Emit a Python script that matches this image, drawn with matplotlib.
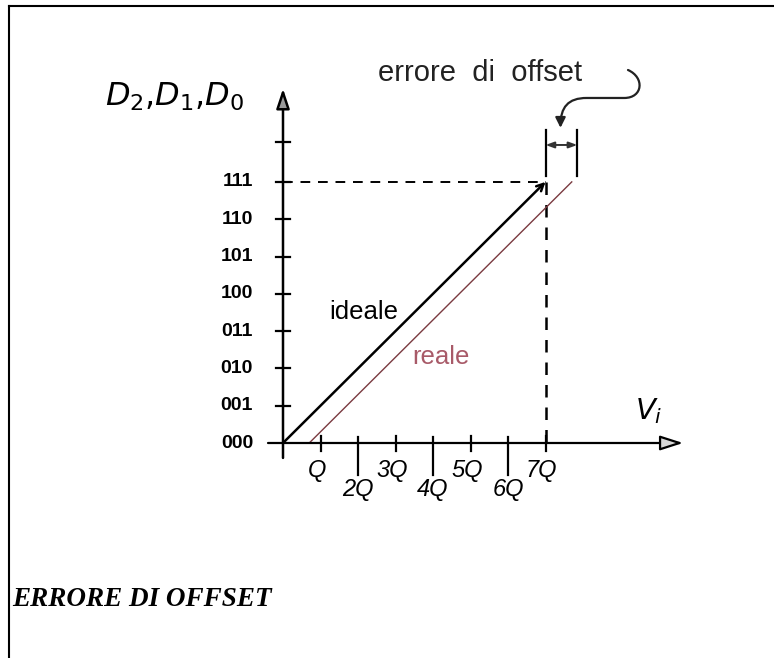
import matplotlib
matplotlib.use("Agg")
import matplotlib.pyplot as plt
from matplotlib.lines import Line2D
from matplotlib.patches import FancyArrowPatch
from matplotlib.path import Path

# output codes on the vertical axis and input steps on the horizontal axis
codes = ["000", "001", "010", "011", "100", "101", "110", "111"]
q_labels = ["Q", "2Q", "3Q", "4Q", "5Q", "6Q", "7Q"]
q_steps = [1, 2, 3, 4, 5, 6, 7]

# ideal and real transfer lines (x in Q units, y in code units)
ideal_x = [0, 7]
ideal_y = [0, 7]
offset = 0.7
real_x = [0 + offset, 7 + offset]
real_y = [0, 7]

fig = plt.figure(figsize=(7.74, 6.58), dpi=100)
ax = fig.add_axes([0, 0, 1, 1])
# origin at pixel (283, 443), one step = 37.5 px across, 37.3 px up
ax.set_xlim(-283 / 37.5, (774 - 283) / 37.5)
ax.set_ylim((443 - 658) / 37.3, 443 / 37.3)
ax.axis("off")

sans = ["Liberation Sans", "DejaVu Sans"]

# axes with arrows
ax.annotate("", xy=(10.67, 0), xytext=(-0.4, 0),
            arrowprops=dict(arrowstyle="-|>,head_length=1.4,head_width=0.45",
                            lw=1.6, color="black", fc="#d8d8d8", shrinkA=0, shrinkB=0))
ax.annotate("", xy=(0, 9.5), xytext=(0, -0.4),
            arrowprops=dict(arrowstyle="-|>,head_length=1.2,head_width=0.4",
                            lw=1.8, color="black", fc="#9a9a9a", shrinkA=0, shrinkB=0))

# y ticks and labels
for i, c in enumerate(codes):
    if i > 0:
        ax.plot([-0.19, 0.19], [i, i], color="black", lw=1.6)
    ax.text(-0.8, i, c, ha="right", va="center", fontsize=14,
            family=sans, fontweight="bold")
ax.plot([-0.19, 0.19], [8.07, 8.07], color="black", lw=1.6)

# x ticks and labels
for s, lab in zip(q_steps, q_labels):
    if s % 2 == 0:
        ax.plot([s, s], [0.16, -0.86], color="black", lw=1.6)
        ax.text(s, -1.26, lab, ha="center", va="center", fontsize=17,
                style="italic", family=sans)
    else:
        ax.plot([s, s], [0.18, -0.22], color="black", lw=1.6)
        ax.text(s - 0.1, -0.75, lab, ha="center", va="center", fontsize=17,
                style="italic", family=sans)

# dashed guides to the 111 / 7Q corner
ax.plot([0, 7], [7, 7], color="black", lw=1.4, ls=(0, (5, 4)))
ax.plot([7, 7], [7, 0], color="black", lw=1.8, ls=(0, (5, 4)))

# transfer characteristics
ax.annotate("", xy=(ideal_x[1], ideal_y[1]), xytext=(ideal_x[0], ideal_y[0]),
            arrowprops=dict(arrowstyle="->,head_length=0.5,head_width=0.25",
                            lw=1.8, color="black", shrinkA=0, shrinkB=0))
ax.plot(real_x, real_y, color="#7a3a40", lw=1.0)

# offset bracket
ax.plot([7, 7], [7.16, 8.39], color="black", lw=1.6)
ax.plot([7.85, 7.85], [7.16, 8.39], color="black", lw=1.6)
ax.annotate("", xy=(7.85, 7.99), xytext=(7, 7.99),
            arrowprops=dict(arrowstyle="<|-|>,head_length=0.5,head_width=0.18",
                            lw=1.4, color="#333333", shrinkA=0, shrinkB=0))

# curly pointer from the label to the bracket
verts = [(9.2, 10.0), (9.65, 9.8), (9.6, 9.25), (9.1, 9.25),
         (8.1, 9.25),
         (7.6, 9.25), (7.4, 9.0), (7.4, 8.45)]
codes_path = [Path.MOVETO, Path.CURVE4, Path.CURVE4, Path.CURVE4,
              Path.LINETO,
              Path.CURVE4, Path.CURVE4, Path.CURVE4]
ax.add_patch(FancyArrowPatch(path=Path(verts, codes_path),
                             arrowstyle="-|>,head_length=6,head_width=3",
                             lw=1.6, color="#222222"))

# texts
ax.text(5.25, 9.93, "errore  di  offset", ha="center", va="center", fontsize=21,
        family=sans, color="#222222")
ax.text(-2.9, 9.28, r"$D_2$,$D_1$,$D_0$", ha="center", va="center", fontsize=23)
ax.text(9.75, 0.85, r"$V_i$", ha="center", va="center", fontsize=21)
ax.text(2.15, 3.5, "ideale", ha="center", va="center", fontsize=18.5,
        family=sans)
ax.text(4.22, 2.3, "reale", ha="center", va="center", fontsize=18.5,
        family=sans, color="#a85a68")

# page frame and caption
fig.add_artist(Line2D([9 / 774, 1], [1 - 6 / 658, 1 - 6 / 658],
                      transform=fig.transFigure, color="black", lw=1.5))
fig.add_artist(Line2D([9 / 774, 9 / 774], [0, 1 - 6 / 658],
                      transform=fig.transFigure, color="black", lw=1.5))
fig.text(12 / 774, 1 - 600 / 658, "ERRORE DI OFFSET", ha="left", va="center",
         fontsize=19.5, family="Liberation Serif", fontweight="bold", style="italic")

fig.savefig("out.png", dpi=100)
